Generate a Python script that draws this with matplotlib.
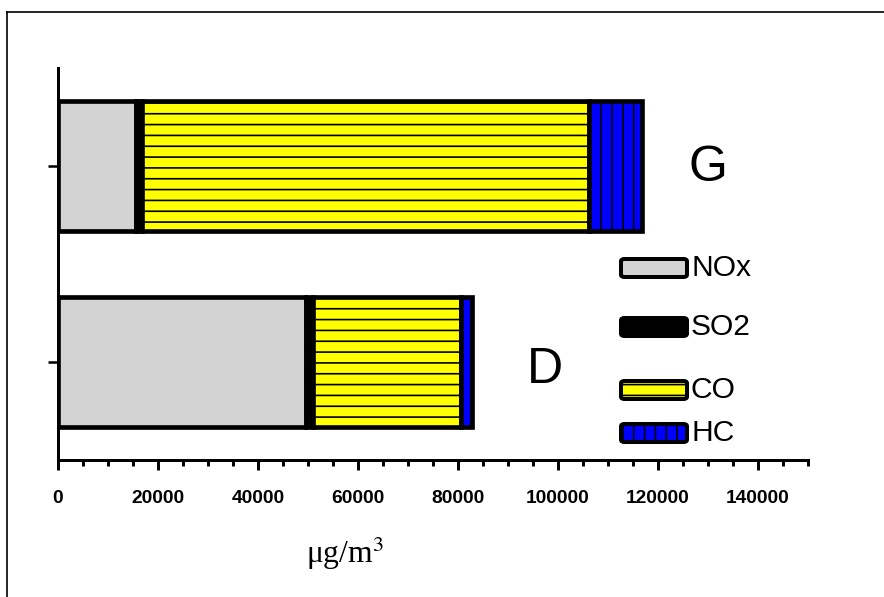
import matplotlib as mpl
mpl.use('Agg')
import matplotlib.pyplot as plt
from matplotlib.patches import FancyBboxPatch
from matplotlib.lines import Line2D

# data (ug/m3)
vehicles = ['D', 'G']
pollutants = ['NOx', 'SO2', 'CO', 'HC']
nox = [49500, 15500]
so2 = [1500, 1200]
co = [29500, 89500]
hc = [2300, 10500]

colors = {'NOx': '#d3d3d3', 'SO2': 'black', 'CO': '#ffff00', 'HC': '#0000ff'}
hatches = {'NOx': '', 'SO2': '', 'CO': '--', 'HC': '||'}

dpi = 130
k = 120 / dpi  # sizes below were tuned at 120 dpi

plt.rcParams['hatch.linewidth'] = 1.0 * k
plt.rcParams['font.family'] = ['Liberation Sans', 'DejaVu Sans']
plt.rcParams['mathtext.fontset'] = 'stix'

fig = plt.figure(figsize=(884 / dpi, 597 / dpi), dpi=dpi)
ax = fig.add_axes([58 / 884, 137 / 597, 750 / 884, 392 / 597])

ypos = [0, 1]
left = [0, 0]
for name, vals in zip(pollutants, [nox, so2, co, hc]):
    ax.barh(ypos, vals, left=left, height=0.66, color=colors[name],
            edgecolor='black', linewidth=2.8 * k, hatch=hatches[name])
    left = [l + v for l, v in zip(left, vals)]

ax.set_xlim(0, 150000)
ax.set_ylim(-0.5, 1.5)
ax.set_xticks(range(0, 140001, 20000))
ax.set_xticklabels([str(v) for v in range(0, 140001, 20000)],
                   fontsize=11.5 * k, fontweight='bold')
ax.set_xticks(range(0, 150001, 5000), minor=True)
ax.set_yticks(ypos)
ax.set_yticklabels([])
for s in ['top', 'right']:
    ax.spines[s].set_visible(False)
for s in ['left', 'bottom']:
    ax.spines[s].set_linewidth(1.8 * k)
ax.tick_params(axis='x', which='major', length=6 * k, width=1.8 * k, pad=12 * k)
ax.tick_params(axis='x', which='minor', length=3.5 * k, width=1.8 * k)
ax.tick_params(axis='y', which='major', length=6 * k, width=1.5 * k)

# bar group labels
ax.text(130000, 0.99, 'G', fontsize=30 * k, ha='center', va='center')
ax.text(97400, -0.04, 'D', fontsize=30 * k, ha='center', va='center')

# legend, entries placed one by one as in the original
leg_y = [268, 327, 390, 433]
for name, yc in zip(pollutants, leg_y):
    p = FancyBboxPatch((621 / 884, 1 - (yc + 9) / 597), 66 / 884, 18 / 597,
                       boxstyle='round,pad=0,rounding_size=0.004',
                       transform=fig.transFigure, facecolor=colors[name],
                       edgecolor='black', linewidth=2.4 * k, hatch=hatches[name])
    fig.add_artist(p)
    fig.text(691 / 884, 1 - yc / 597, name, fontsize=18 * k, ha='left', va='center')

fig.text(345 / 884, 1 - 553 / 597, 'μg/m$^3$', fontsize=19 * k, ha='center', va='center',
         family=['Liberation Serif', 'DejaVu Serif'])

# outer frame (left and top only)
fig.add_artist(Line2D([7 / 884, 7 / 884], [0, 1 - 12 / 597], transform=fig.transFigure,
                      color='black', linewidth=1.0 * k))
fig.add_artist(Line2D([7 / 884, 1], [1 - 12 / 597, 1 - 12 / 597], transform=fig.transFigure,
                      color='black', linewidth=1.0 * k))

fig.savefig('out.png', dpi=dpi)
